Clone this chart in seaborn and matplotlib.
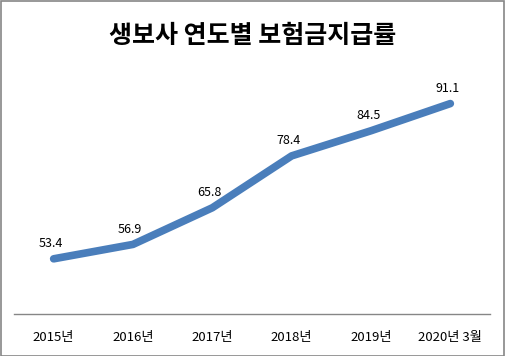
import matplotlib
matplotlib.use("Agg")
import matplotlib.pyplot as plt
import seaborn as sns
import pandas as pd
from matplotlib.patches import Rectangle

categories = ["2015년", "2016년", "2017년", "2018년", "2019년", "2020년 3월"]
values = [53.4, 56.9, 65.8, 78.4, 84.5, 91.1]
title = "생보사 연도별 보험금지급률"

sns.set_theme(style="white")
plt.rcParams['font.family'] = ['Noto Sans CJK KR', 'DejaVu Sans']

df = pd.DataFrame({"year": categories, "rate": values})
df["pos"] = range(len(categories))

fig = plt.figure(figsize=(5.05, 3.56), dpi=100)
ax = fig.add_axes([0.0277, 0.118, 0.9426, 0.694])
sns.lineplot(data=df, x="pos", y="rate", ax=ax, color="#4A7EBB", linewidth=5.5,
             solid_capstyle="round", solid_joinstyle="round")
ax.set_xlim(-0.5, len(categories) - 0.5)
ax.set_ylim(40, 100)
ax.set_xticks(df["pos"])
ax.set_xticklabels(categories, fontsize=9.5, color="#000000")
ax.tick_params(axis="x", length=0, pad=12)
ax.set_yticks([])
ax.set_xlabel("")
ax.set_ylabel("")
for s in ["top", "right", "left"]:
    ax.spines[s].set_visible(False)
ax.spines["bottom"].set_color("#868686")
ax.spines["bottom"].set_linewidth(1.0)

for p, v in zip(df["pos"], df["rate"]):
    ax.annotate(f"{v:.1f}", (p, v), xytext=(-2, 11), textcoords="offset points",
                ha="center", va="center", fontsize=9, color="#000000")

fig.text(0.5, 0.9, title, ha="center", va="center", fontsize=18,
         fontweight="bold", color="#000000")
fig.patches.append(Rectangle((0.001, 0.001), 0.997, 0.996, transform=fig.transFigure,
                             fill=False, edgecolor="#868686", linewidth=1.2))
fig.savefig("out.png", dpi=100)
